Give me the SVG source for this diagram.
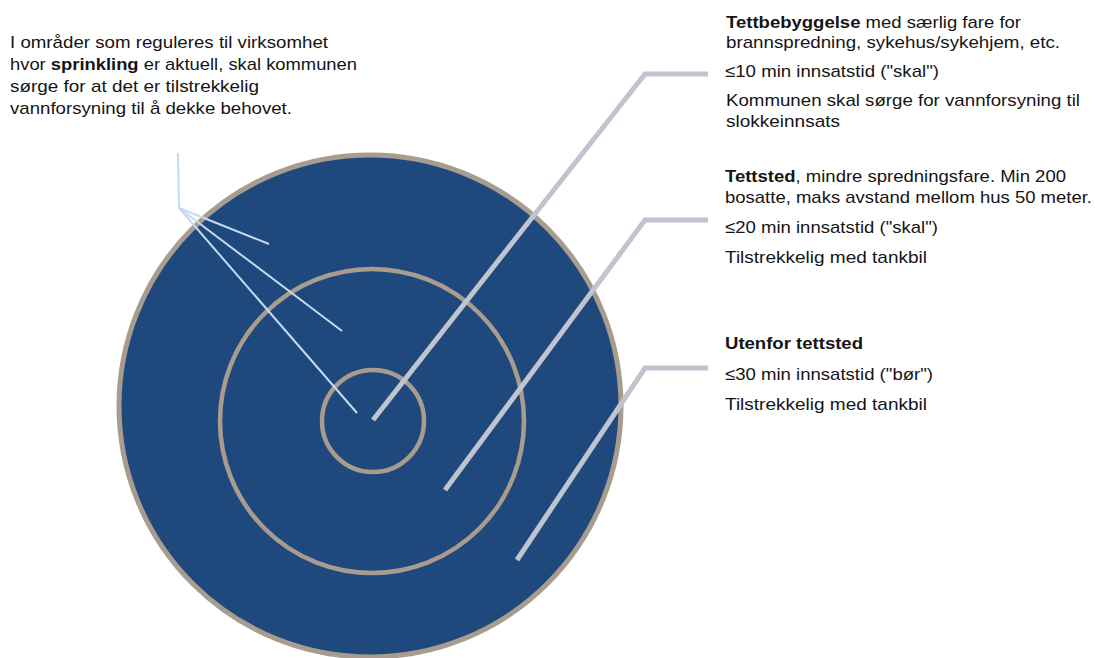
<svg xmlns="http://www.w3.org/2000/svg" width="1095" height="658" viewBox="0 0 1095 658">
<style>
.t{font-family:"Liberation Sans",Arial,sans-serif;font-size:17px;fill:#151515}
.b{font-weight:bold}
.ring{fill:#1f497d;stroke:#a89c8f}
.lead{fill:none;stroke:#c0c4cf;stroke-width:5}
.thin{fill:none;stroke:#c6d9f0;stroke-width:2}
</style>
<rect width="1095" height="658" fill="#ffffff"/>
<g id="zone-outer"><circle class="ring" cx="370" cy="406" r="251" stroke-width="5"/></g>
<g id="zone-middle"><circle class="ring" cx="372" cy="421" r="152" stroke-width="4.5"/></g>
<g id="zone-inner"><circle class="ring" cx="373" cy="421" r="51" stroke-width="4.5"/></g>
<g id="connectors">
<polyline class="lead" points="373,420 645,74 708,74"/>
<polyline class="lead" points="445,490 645,220 708,220"/>
<polyline class="lead" points="517,560 645,368 708,368"/>
<polyline class="thin" points="178,153 179,208 269,244"/>
<polyline class="thin" points="179,208 342,331"/>
<polyline class="thin" points="179,208 357,413"/>
</g>
<g id="note-sprinkling">
<text class="t" x="10" y="48" textLength="318" lengthAdjust="spacingAndGlyphs">I områder som reguleres til virksomhet</text>
<text class="t" x="10" y="70" textLength="347" lengthAdjust="spacingAndGlyphs">hvor <tspan class="b">sprinkling</tspan> er aktuell, skal kommunen</text>
<text class="t" x="10" y="92" textLength="249" lengthAdjust="spacingAndGlyphs">sørge for at det er tilstrekkelig</text>
<text class="t" x="10" y="114" textLength="282" lengthAdjust="spacingAndGlyphs">vannforsyning til å dekke behovet.</text>
</g>
<g id="label-tettbebyggelse">
<text class="t" x="726" y="28" textLength="295" lengthAdjust="spacingAndGlyphs"><tspan class="b">Tettbebyggelse</tspan> med særlig fare for</text>
<text class="t" x="726" y="48" textLength="334" lengthAdjust="spacingAndGlyphs">brannspredning, sykehus/sykehjem, etc.</text>
<text class="t" x="725" y="77" textLength="214" lengthAdjust="spacingAndGlyphs">≤10 min innsatstid ("skal")</text>
<text class="t" x="726" y="106" textLength="354" lengthAdjust="spacingAndGlyphs">Kommunen skal sørge for vannforsyning til</text>
<text class="t" x="726" y="127" textLength="114" lengthAdjust="spacingAndGlyphs">slokkeinnsats</text>
</g>
<g id="label-tettsted">
<text class="t" x="725" y="182" textLength="341" lengthAdjust="spacingAndGlyphs"><tspan class="b">Tettsted</tspan>, mindre spredningsfare. Min 200</text>
<text class="t" x="725" y="203" textLength="367" lengthAdjust="spacingAndGlyphs">bosatte, maks avstand mellom hus 50 meter.</text>
<text class="t" x="725" y="233" textLength="213" lengthAdjust="spacingAndGlyphs">≤20 min innsatstid ("skal")</text>
<text class="t" x="725" y="263" textLength="202" lengthAdjust="spacingAndGlyphs">Tilstrekkelig med tankbil</text>
</g>
<g id="label-utenfor">
<text class="t b" x="725" y="349" textLength="138" lengthAdjust="spacingAndGlyphs">Utenfor tettsted</text>
<text class="t" x="725" y="380" textLength="208" lengthAdjust="spacingAndGlyphs">≤30 min innsatstid ("bør")</text>
<text class="t" x="725" y="410" textLength="202" lengthAdjust="spacingAndGlyphs">Tilstrekkelig med tankbil</text>
</g>
</svg>
